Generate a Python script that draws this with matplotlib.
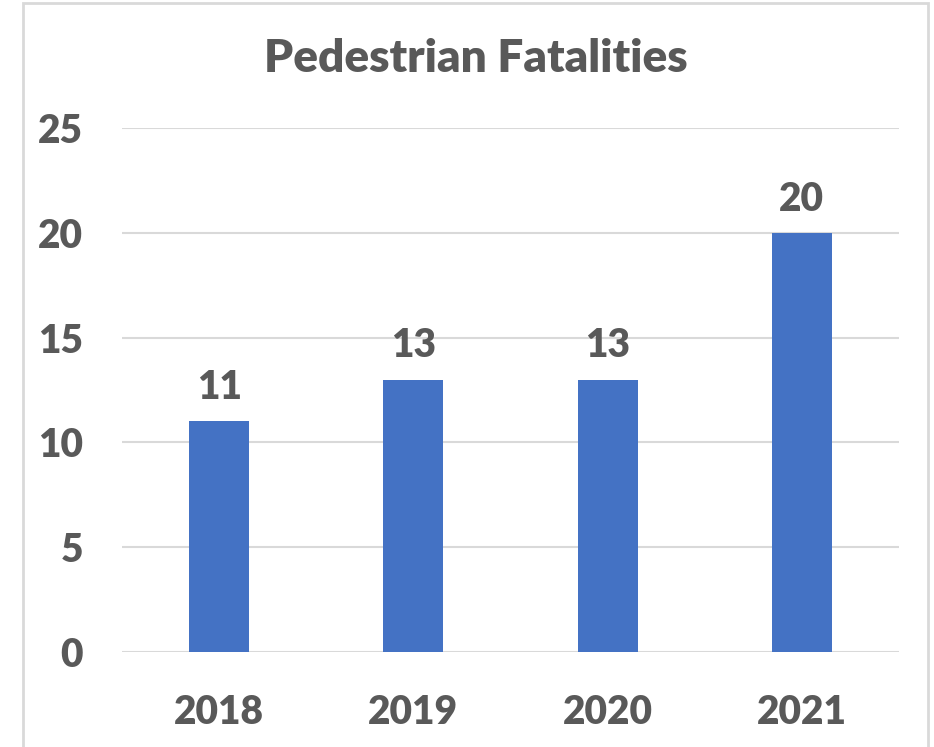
import matplotlib.pyplot as plt
from matplotlib.patches import Rectangle

years = ['2018', '2019', '2020', '2021']
fatalities = [11, 13, 13, 20]
y_ticks = [0, 5, 10, 15, 20, 25]

text_color = '#595959'
bar_color = '#4472C4'
grid_color = '#d9d9d9'
font = 'Lato'
weight = 'heavy'

fig = plt.figure(figsize=(9.34, 7.47), dpi=100)
ax = fig.add_axes([122 / 934, 1 - 652 / 747, (899 - 122) / 934, (652 - 128) / 747])

x = range(len(years))
bars = ax.bar(x, fatalities, width=0.31, color=bar_color, zorder=3)
ax.set_xlim(-0.5, len(years) - 0.5)
ax.set_ylim(0, 25)
ax.set_yticks(y_ticks)
ax.set_xticks(list(x))
ax.set_xticklabels(years)

for s in ax.spines.values():
    s.set_visible(False)
ax.grid(axis='y', color=grid_color, linewidth=1.5, zorder=0)
ax.tick_params(length=0, labelsize=28, labelcolor=text_color)
ax.tick_params(axis='y', pad=28)
ax.tick_params(axis='x', pad=30)
for lab in ax.get_xticklabels() + ax.get_yticklabels():
    lab.set_fontfamily(font)
    lab.set_fontweight(weight)

for b, v in zip(bars, fatalities):
    ax.annotate(str(v), (b.get_x() + b.get_width() / 2, v), xytext=(0, 11),
                textcoords='offset points', ha='center', va='bottom',
                fontsize=28, fontweight=weight, color=text_color, family=font)

fig.text(476 / 934, 1 - 58 / 747, 'Pedestrian Fatalities', ha='center', va='center',
         fontsize=33, fontweight=weight, color=text_color, family=font)

# chart border
fig.patches.append(Rectangle((23 / 934, -0.05), (928 - 23) / 934, 1 - 3 / 747 + 0.05,
                             transform=fig.transFigure, fill=False,
                             edgecolor=grid_color, linewidth=2))

fig.savefig('out.png', dpi=100)
